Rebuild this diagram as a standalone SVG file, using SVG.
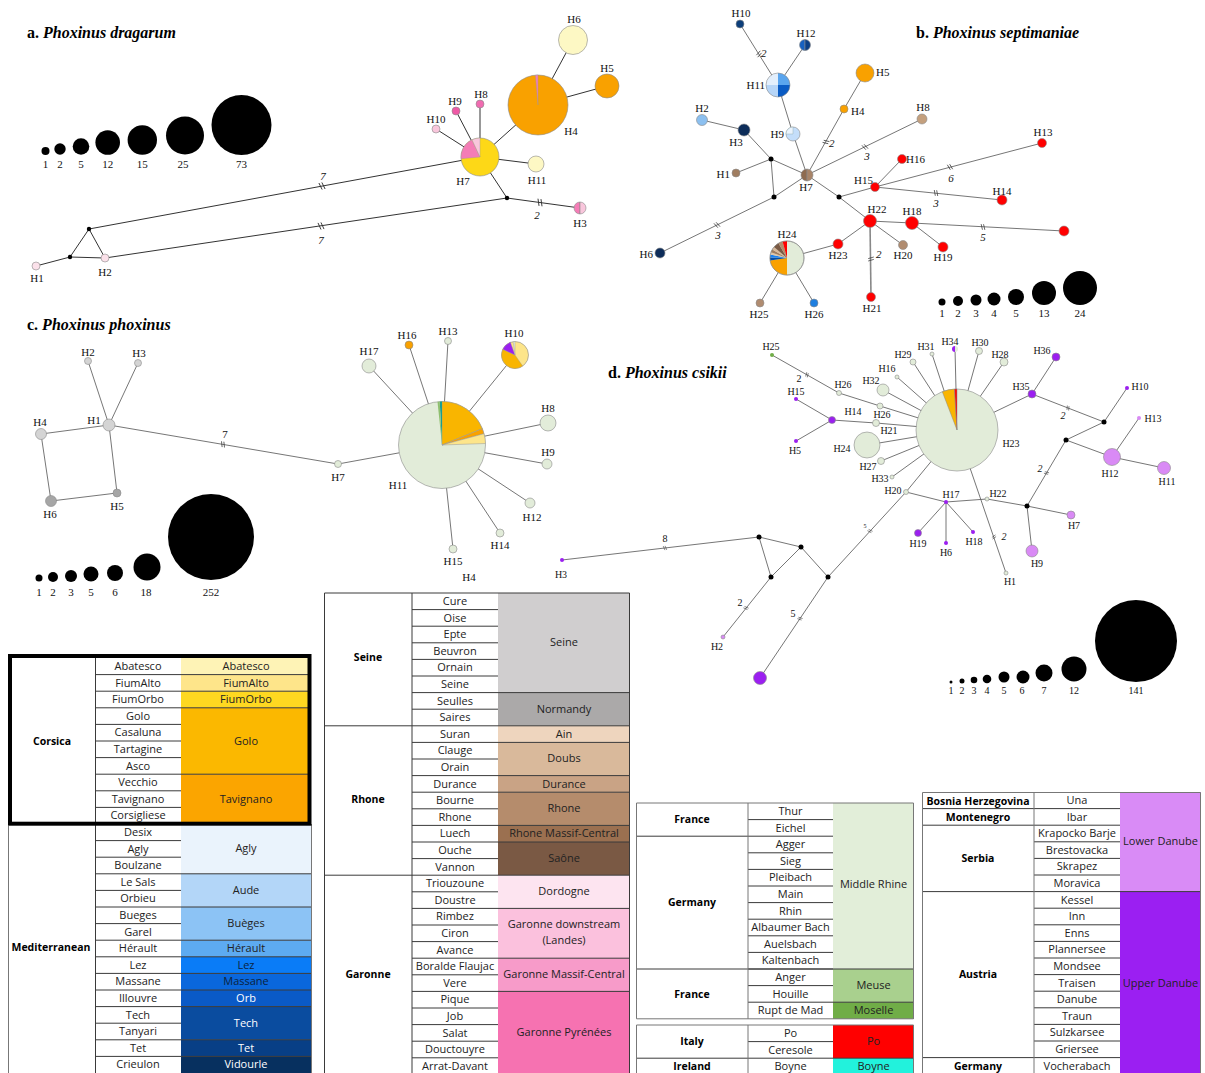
<svg xmlns="http://www.w3.org/2000/svg" xmlns:xlink="http://www.w3.org/1999/xlink" width="1205" height="1073" viewBox="0 0 1205 1073">
<style>
.e line{stroke:#333;stroke-width:1}
.eb line{stroke:#666;stroke-width:0.9}
.o{stroke:#8a8a8a;stroke-width:0.6}
.k{fill:#000}
.l{font-family:"Liberation Serif","Times New Roman",serif;font-size:11px;fill:#111;text-anchor:middle}
.s{font-size:10px}
.ls{font-size:10px}
.i{font-style:italic}
.st{text-anchor:start}
.en{text-anchor:end}
.t{font-family:"Liberation Serif","Times New Roman",serif;font-size:16px;font-weight:bold;fill:#000}
.tc{font-family:"Open Sans","Liberation Sans",sans-serif;font-size:11px;fill:#222;text-anchor:middle}
.tb{font-weight:bold;font-size:10.5px;fill:#000}
.w{fill:#fff}
.tl{fill:none;stroke:#3a3a3a;stroke-width:1}
.tg{fill:none;stroke:#777;stroke-width:1}
.lg{fill:#e2ecd9}
.pu{fill:#9b1ff0}
.lp{fill:#d98af5}
</style>
<defs>
<path id="h" d="M-2.5,-3.5L-0.5,3.5M0.5,-3.5L2.5,3.5" fill="none" stroke="#333" stroke-width="0.9"/>
</defs>
<rect width="1205" height="1073" fill="#fff"/>

<!-- titles -->
<text class="t" x="27" y="38">a. <tspan font-style="italic">Phoxinus dragarum</tspan></text>
<text class="t" x="916" y="38">b. <tspan font-style="italic">Phoxinus septimaniae</tspan></text>
<text class="t" x="27" y="330">c. <tspan font-style="italic">Phoxinus phoxinus</tspan></text>
<text class="t" x="608" y="378">d. <tspan font-style="italic">Phoxinus csikii</tspan></text>

<g id="connectors">
 <g class="e">
  <!-- panel a -->
  <line x1="36" y1="266" x2="70" y2="257"/>
  <line x1="70" y1="257" x2="89" y2="229"/>
  <line x1="89" y1="229" x2="105" y2="258"/>
  <line x1="70" y1="257" x2="105" y2="258"/>
  <line x1="89" y1="229" x2="480" y2="157"/>
  <line x1="105" y1="258" x2="507" y2="198"/>
  <line x1="507" y1="198" x2="480" y2="157"/>
  <line x1="507" y1="198" x2="580" y2="208"/>
  <line x1="480" y1="157" x2="436" y2="129"/>
  <line x1="480" y1="157" x2="456" y2="111"/>
  <line x1="480" y1="157" x2="480" y2="104"/>
  <line x1="480" y1="157" x2="538" y2="105"/>
  <line x1="480" y1="157" x2="536" y2="164"/>
  <line x1="538" y1="105" x2="573" y2="40"/>
  <line x1="538" y1="105" x2="607" y2="86"/>
 </g>
 <g class="eb">
  <!-- panel b -->
  <line x1="740" y1="24" x2="778" y2="85"/>
  <line x1="805" y1="45" x2="778" y2="85"/>
  <line x1="778" y1="85" x2="793" y2="134"/>
  <line x1="793" y1="134" x2="807" y2="175"/>
  <line x1="865" y1="73" x2="844" y2="109"/>
  <line x1="844" y1="109" x2="807" y2="175"/>
  <line x1="702" y1="120" x2="744" y2="130"/>
  <line x1="744" y1="130" x2="771" y2="159"/>
  <line x1="736" y1="173" x2="771" y2="159"/>
  <line x1="771" y1="159" x2="807" y2="175"/>
  <line x1="771" y1="159" x2="774" y2="197"/>
  <line x1="660" y1="253" x2="774" y2="197"/>
  <line x1="774" y1="197" x2="807" y2="175"/>
  <line x1="807" y1="175" x2="922" y2="119"/>
  <line x1="807" y1="175" x2="839" y2="197"/>
  <line x1="839" y1="197" x2="875" y2="187"/>
  <line x1="839" y1="197" x2="870" y2="221"/>
  <line x1="875" y1="187" x2="902" y2="159"/>
  <line x1="875" y1="187" x2="1042" y2="143"/>
  <line x1="875" y1="187" x2="1002" y2="200"/>
  <line x1="870" y1="221" x2="912" y2="223"/>
  <line x1="912" y1="223" x2="943" y2="247"/>
  <line x1="912" y1="223" x2="1064" y2="231"/>
  <line x1="870" y1="221" x2="903" y2="245"/>
  <line x1="870" y1="221" x2="838" y2="244"/>
  <line x1="838" y1="244" x2="787" y2="258"/>
  <line x1="870" y1="221" x2="871" y2="297" style="stroke:#888;stroke-width:1.6"/>
  <line x1="787" y1="258" x2="760" y2="303"/>
  <line x1="787" y1="258" x2="814" y2="303"/>
 </g>
 <g class="eb">
  <!-- panel c -->
  <line x1="109" y1="425" x2="88" y2="361"/>
  <line x1="109" y1="425" x2="138" y2="363"/>
  <line x1="109" y1="425" x2="41" y2="434"/>
  <line x1="41" y1="434" x2="51" y2="501"/>
  <line x1="51" y1="501" x2="117" y2="493"/>
  <line x1="117" y1="493" x2="109" y2="425"/>
  <line x1="109" y1="425" x2="338" y2="464"/>
  <line x1="338" y1="464" x2="442" y2="445"/>
  <line x1="442" y1="445" x2="369" y2="366"/>
  <line x1="442" y1="445" x2="409" y2="345"/>
  <line x1="442" y1="445" x2="448" y2="341"/>
  <line x1="442" y1="445" x2="515" y2="355"/>
  <line x1="442" y1="445" x2="548" y2="423"/>
  <line x1="442" y1="445" x2="547" y2="464"/>
  <line x1="442" y1="445" x2="530" y2="503"/>
  <line x1="442" y1="445" x2="500" y2="533"/>
  <line x1="442" y1="445" x2="453" y2="549"/>
 </g>
 <g class="eb">
  <!-- panel d -->
  <line x1="772" y1="355" x2="839" y2="393"/>
  <line x1="839" y1="393" x2="880" y2="406"/>
  <line x1="880" y1="406" x2="957" y2="430"/>
  <line x1="796" y1="399" x2="832" y2="420"/>
  <line x1="796" y1="441" x2="832" y2="420"/>
  <line x1="832" y1="420" x2="876" y2="423"/>
  <line x1="876" y1="423" x2="957" y2="430"/>
  <line x1="883" y1="390" x2="957" y2="430"/>
  <line x1="897" y1="377" x2="957" y2="430"/>
  <line x1="867" y1="445" x2="957" y2="430"/>
  <line x1="881" y1="461" x2="957" y2="430"/>
  <line x1="892" y1="477" x2="957" y2="430"/>
  <line x1="913" y1="362" x2="957" y2="430"/>
  <line x1="932" y1="354" x2="957" y2="430"/>
  <line x1="955" y1="349" x2="957" y2="430"/>
  <line x1="979" y1="351" x2="957" y2="430"/>
  <line x1="1004" y1="362" x2="957" y2="430"/>
  <line x1="957" y1="430" x2="1032" y2="394"/>
  <line x1="1032" y1="394" x2="1056" y2="357"/>
  <line x1="1032" y1="394" x2="1104" y2="422"/>
  <line x1="1104" y1="422" x2="1127" y2="388"/>
  <line x1="1104" y1="422" x2="1066" y2="440"/>
  <line x1="1066" y1="440" x2="1112" y2="457"/>
  <line x1="1112" y1="457" x2="1164" y2="468"/>
  <line x1="1112" y1="457" x2="1139" y2="418"/>
  <line x1="1066" y1="440" x2="1027" y2="506"/>
  <line x1="1027" y1="506" x2="1071" y2="515"/>
  <line x1="1027" y1="506" x2="1032" y2="551"/>
  <line x1="1027" y1="506" x2="987" y2="499"/>
  <line x1="987" y1="499" x2="946" y2="502"/>
  <line x1="946" y1="502" x2="906" y2="492"/>
  <line x1="946" y1="502" x2="918" y2="533"/>
  <line x1="946" y1="502" x2="946" y2="543"/>
  <line x1="946" y1="502" x2="973" y2="532"/>
  <line x1="957" y1="430" x2="1006" y2="573"/>
  <line x1="957" y1="430" x2="906" y2="492"/>
  <line x1="906" y1="492" x2="828" y2="577"/>
  <line x1="828" y1="577" x2="801" y2="547"/>
  <line x1="801" y1="547" x2="759" y2="537"/>
  <line x1="759" y1="537" x2="771" y2="577"/>
  <line x1="771" y1="577" x2="801" y2="547"/>
  <line x1="771" y1="577" x2="723" y2="637"/>
  <line x1="828" y1="577" x2="760" y2="678"/>
  <line x1="759" y1="537" x2="562" y2="560"/>
 </g>
 <!-- mutation hash marks -->
 <use href="#h" transform="translate(322,186) rotate(-10.4)"/>
 <use href="#h" transform="translate(321,226) rotate(-8.5)"/>
 <use href="#h" transform="translate(540,202.5) rotate(7.8)"/>
 <use href="#h" transform="translate(759,54) rotate(58) scale(0.8)"/>
 <use href="#h" transform="translate(826,142) rotate(119) scale(0.8)"/>
 <use href="#h" transform="translate(717,225) rotate(-26) scale(0.8)"/>
 <use href="#h" transform="translate(865,147) rotate(-26) scale(0.8)"/>
 <use href="#h" transform="translate(950,167) rotate(-14.8) scale(0.8)"/>
 <use href="#h" transform="translate(936,193) rotate(5.8) scale(0.8)"/>
 <use href="#h" transform="translate(983,227) rotate(3) scale(0.8)"/>
 <use href="#h" transform="translate(871,259) rotate(90) scale(0.8)"/>
 <use href="#h" transform="translate(223,444.4) rotate(9.7) scale(0.8)"/>
 <use href="#h" transform="translate(807,374.8) rotate(29.6) scale(0.6)"/>
 <use href="#h" transform="translate(665,548) rotate(-6.7) scale(0.6)"/>
 <use href="#h" transform="translate(746,608) rotate(128.7) scale(0.6)"/>
 <use href="#h" transform="translate(800,618.6) rotate(124) scale(0.6)"/>
 <use href="#h" transform="translate(870,531) rotate(132.5) scale(0.6)"/>
 <use href="#h" transform="translate(994,537) rotate(71) scale(0.6)"/>
 <use href="#h" transform="translate(1068,408) rotate(21) scale(0.6)"/>
 <use href="#h" transform="translate(1046.5,473) rotate(120.6) scale(0.6)"/>
 <!-- mutation counts -->
 <text class="l i" x="323" y="180">7</text>
 <text class="l i" x="321" y="244">7</text>
 <text class="l i" x="537" y="219">2</text>
 <text class="l i st" x="761" y="57">2</text>
 <text class="l i st" x="829" y="147">2</text>
 <text class="l i" x="718" y="239">3</text>
 <text class="l i" x="867" y="160">3</text>
 <text class="l i" x="951" y="182">6</text>
 <text class="l i" x="936" y="207">3</text>
 <text class="l i" x="983" y="241">5</text>
 <text class="l i st" x="876" y="258">2</text>
 <text class="l" x="225" y="438">7</text>
 <text class="l s" x="799" y="382">2</text>
 <text class="l s" x="665" y="542">8</text>
 <text class="l s" x="740" y="606">2</text>
 <text class="l s" x="793" y="617">5</text>
 <text class="l" x="865" y="528" style="font-size:6px">5</text>
 <text class="l s i" x="1004" y="540">2</text>
 <text class="l s i" x="1063" y="419">2</text>
 <text class="l s i" x="1040" y="472">2</text>
</g>

<!-- ===== Panel a nodes ===== -->
<g id="a-legend">
 <circle class="k" cx="45.5" cy="151" r="4"/><circle class="k" cx="60" cy="149" r="5.7"/><circle class="k" cx="81" cy="146.5" r="8.3"/><circle class="k" cx="107.7" cy="142.5" r="12.3"/><circle class="k" cx="142.3" cy="140" r="14.7"/><circle class="k" cx="185" cy="135.5" r="19"/><circle class="k" cx="241.5" cy="125" r="30"/>
 <text class="l" x="45.5" y="168">1</text><text class="l" x="60" y="168">2</text><text class="l" x="81" y="168">5</text><text class="l" x="107.7" y="168">12</text><text class="l" x="142.3" y="168">15</text><text class="l" x="183" y="168">25</text><text class="l" x="241.5" y="168">73</text>
</g>
<g id="a-N"><circle class="k" cx="70" cy="257" r="2.2"/><circle class="k" cx="89" cy="229" r="2.2"/><circle class="k" cx="507" cy="198" r="2.2"/></g>
<g id="a-H1"><circle class="o" cx="36" cy="266" r="4" fill="#fbe1ea"/><text class="l" x="37" y="282">H1</text></g>
<g id="a-H2"><circle class="o" cx="105" cy="258" r="4" fill="#fbe1ea"/><text class="l" x="105" y="276">H2</text></g>
<g id="a-H3"><path class="o" d="M580,202A6,6 0 0,0 580,214Z" fill="#f47cb6"/><path class="o" d="M580,202A6,6 0 0,1 580,214Z" fill="#f9c6dc"/><text class="l" x="580" y="227">H3</text></g>
<g id="a-H4"><circle class="o" cx="538" cy="105" r="30" fill="#f9a100"/><path d="M538,105L535.4,75.1A30,30 0 0,1 538,75Z" fill="#f47cb6" stroke="#999" stroke-width="0.4"/><text class="l" x="571" y="135">H4</text></g>
<g id="a-H5"><circle class="o" cx="607" cy="86" r="12" fill="#f9a100"/><text class="l" x="607" y="72">H5</text></g>
<g id="a-H6"><circle class="o" cx="573" cy="40" r="14.5" fill="#fdf8c4"/><text class="l" x="574" y="23">H6</text></g>
<g id="a-H7"><circle class="o" cx="480" cy="157" r="19" fill="#fdd817"/><path d="M480,157L461.1,158.7A19,19 0 0,1 472,139.8Z" fill="#f47cb6" stroke="#999" stroke-width="0.4"/><path d="M480,157L472,139.8A19,19 0 0,1 480,138Z" fill="#f9c6dc" stroke="#999" stroke-width="0.4"/><text class="l" x="463" y="185">H7</text></g>
<g id="a-H8"><circle class="o" cx="480" cy="104" r="4" fill="#f06bb0"/><text class="l" x="481" y="98">H8</text></g>
<g id="a-H9"><circle class="o" cx="456" cy="111" r="4" fill="#ee5aa6"/><text class="l" x="455" y="105">H9</text></g>
<g id="a-H10"><circle class="o" cx="436" cy="129" r="4" fill="#f9c6dc"/><text class="l" x="436" y="123">H10</text></g>
<g id="a-H11"><circle class="o" cx="536" cy="164" r="8" fill="#fdf8c4"/><text class="l" x="537" y="184">H11</text></g>

<!-- ===== Panel b nodes ===== -->
<g id="b-legend">
 <circle class="k" cx="942" cy="302" r="3.5"/><circle class="k" cx="958" cy="301" r="5"/><circle class="k" cx="976" cy="300" r="5.5"/><circle class="k" cx="994" cy="299" r="6.5"/><circle class="k" cx="1016" cy="297" r="8"/><circle class="k" cx="1044" cy="293" r="12"/><circle class="k" cx="1080" cy="288" r="17"/>
 <text class="l" x="942" y="317">1</text><text class="l" x="958" y="317">2</text><text class="l" x="976" y="317">3</text><text class="l" x="994" y="317">4</text><text class="l" x="1016" y="317">5</text><text class="l" x="1044" y="317">13</text><text class="l" x="1080" y="317">24</text>
</g>
<g id="b-N"><circle class="k" cx="771" cy="159" r="2.5"/><circle class="k" cx="774" cy="197" r="2.5"/><circle class="k" cx="839" cy="197" r="2.5"/></g>
<g id="b-H1"><circle class="o" cx="736" cy="173" r="4" fill="#a07d60"/><text class="l en" x="730" y="178">H1</text></g>
<g id="b-H2"><circle class="o" cx="702" cy="120" r="5.5" fill="#8cc0f0"/><text class="l" x="702" y="112">H2</text></g>
<g id="b-H3"><circle class="o" cx="744" cy="130" r="6" fill="#0d2d5a"/><text class="l" x="736" y="146">H3</text></g>
<g id="b-H4"><circle class="o" cx="844" cy="109" r="4" fill="#f9a100"/><text class="l st" x="851" y="115">H4</text></g>
<g id="b-H5"><circle class="o" cx="865" cy="73" r="9" fill="#f9a100"/><text class="l st" x="876" y="76">H5</text></g>
<g id="b-H6"><circle class="o" cx="660" cy="253" r="5" fill="#0d2d5a"/><text class="l en" x="653" y="258">H6</text></g>
<g id="b-H7"><path class="o" d="M807,169A6,6 0 0,0 807,181Z" fill="#8e6b50"/><path class="o" d="M807,169A6,6 0 0,1 807,181Z" fill="#a88468"/><text class="l" x="806" y="191">H7</text></g>
<g id="b-H8"><circle class="o" cx="922" cy="119" r="5" fill="#c4a07e"/><text class="l" x="923" y="111">H8</text></g>
<g id="b-H9"><circle class="o" cx="793" cy="134" r="7" fill="#c4defa"/><path d="M793,134L786,134A7,7 0 0,1 793,127Z" fill="#eaf3fd" stroke="#8aa" stroke-width="0.4"/><text class="l en" x="784" y="138">H9</text></g>
<g id="b-H10"><circle class="o" cx="740" cy="24" r="4" fill="#0d3e7a"/><text class="l" x="741" y="17">H10</text></g>
<g id="b-H11"><path d="M778,85L766,85A12,12 0 0,1 778,73Z" fill="#e3effc"/><path d="M778,85L778,73A12,12 0 0,1 790,85Z" fill="#5aa5ee"/><path d="M778,85L790,85A12,12 0 0,1 778,97Z" fill="#0a5bc4"/><path d="M778,85L778,97A12,12 0 0,1 766,85Z" fill="#b6d5f7"/><circle class="o" cx="778" cy="85" r="12" fill="none"/><text class="l en" x="765" y="89">H11</text></g>
<g id="b-H12"><path class="o" d="M805,39.5A5.5,5.5 0 0,0 805,50.5Z" fill="#1560c0"/><path class="o" d="M805,39.5A5.5,5.5 0 0,1 805,50.5Z" fill="#0b3f85"/><text class="l" x="806" y="37">H12</text></g>
<g id="b-H13"><circle class="o" cx="1042" cy="143" r="4.5" fill="#ff0000"/><text class="l" x="1043" y="136">H13</text></g>
<g id="b-H14"><circle class="o" cx="1002" cy="200" r="5" fill="#ff0000"/><text class="l" x="1002" y="195">H14</text></g>
<g id="b-H15"><circle class="o" cx="875" cy="187" r="4.5" fill="#ff0000"/><text class="l en" x="873" y="184">H15</text></g>
<g id="b-H16"><circle class="o" cx="902" cy="159" r="4.5" fill="#ff0000"/><text class="l st" x="906" y="163">H16</text></g>
<g id="b-H17"><circle class="o" cx="1064" cy="231" r="5" fill="#ff0000"/></g>
<g id="b-H18"><circle class="o" cx="912" cy="223" r="6.5" fill="#ff0000"/><text class="l" x="912" y="215">H18</text></g>
<g id="b-H19"><circle class="o" cx="943" cy="247" r="5" fill="#ff0000"/><text class="l" x="943" y="261">H19</text></g>
<g id="b-H20"><circle class="o" cx="903" cy="245" r="4.5" fill="#b08c70"/><text class="l" x="903" y="259">H20</text></g>
<g id="b-H21"><circle class="o" cx="871" cy="297" r="4.5" fill="#ff0000"/><text class="l" x="872" y="312">H21</text></g>
<g id="b-H22"><circle class="o" cx="870" cy="221" r="6.5" fill="#ff0000"/><text class="l" x="877" y="213">H22</text></g>
<g id="b-H23"><circle class="o" cx="838" cy="244" r="5" fill="#ff0000"/><text class="l" x="838" y="259">H23</text></g>
<g id="b-H24">
 <circle class="o" cx="787" cy="258" r="17" fill="#e2ecd9"/>
 <path d="M787,258L787,275A17,17 0 0,1 770.2,260.4Z" fill="#f9a100"/>
 <path d="M787,258L770.2,260.4A17,17 0 0,1 770,257.4Z" fill="#0a4da0"/>
 <path d="M787,258L770,257.4A17,17 0 0,1 770.4,254.5Z" fill="#1a80f0"/>
 <path d="M787,258L770.4,254.5A17,17 0 0,1 771,252.2Z" fill="#e0c4a6"/>
 <path d="M787,258L771,252.2A17,17 0 0,1 772.3,249.5Z" fill="#a07d60"/>
 <path d="M787,258L772.3,249.5A17,17 0 0,1 774,247.1Z" fill="#d8b89a"/>
 <path d="M787,258L774,247.1A17,17 0 0,1 778.5,243.3Z" fill="#7a5a44"/>
 <path d="M787,258L778.5,243.3A17,17 0 0,1 782.6,241.6Z" fill="#b48b6b"/>
 <path d="M787,258L782.6,241.6A17,17 0 0,1 787,241Z" fill="#ff0000"/>
 <circle class="o" cx="787" cy="258" r="17" fill="none"/>
 <text class="l" x="787" y="238">H24</text>
</g>
<g id="b-H25"><circle class="o" cx="760" cy="303" r="4" fill="#b08c70"/><text class="l" x="759" y="318">H25</text></g>
<g id="b-H26"><circle class="o" cx="814" cy="303" r="4" fill="#1f7fe0"/><text class="l" x="814" y="318">H26</text></g>

<!-- ===== Panel c nodes ===== -->
<g id="c-legend">
 <circle class="k" cx="39" cy="578" r="3.5"/><circle class="k" cx="53" cy="577" r="5"/><circle class="k" cx="71" cy="576" r="6"/><circle class="k" cx="91" cy="574" r="7.5"/><circle class="k" cx="115" cy="573" r="8"/><circle class="k" cx="147" cy="567" r="13.5"/><circle class="k" cx="211" cy="537" r="43"/>
 <text class="l" x="39" y="596">1</text><text class="l" x="53" y="596">2</text><text class="l" x="71" y="596">3</text><text class="l" x="91" y="596">5</text><text class="l" x="115" y="596">6</text><text class="l" x="146" y="596">18</text><text class="l" x="211" y="596">252</text>
</g>
<g id="c-H1"><circle class="o" cx="109" cy="425" r="6" fill="#d4d4d4"/><text class="l" x="94" y="424">H1</text></g>
<g id="c-H2"><circle class="o" cx="88" cy="361" r="3.5" fill="#d4d4d4"/><text class="l" x="88" y="356">H2</text></g>
<g id="c-H3"><circle class="o" cx="138" cy="363" r="3.5" fill="#d4d4d4"/><text class="l" x="139" y="357">H3</text></g>
<g id="c-H4"><circle class="o" cx="41" cy="434" r="5.5" fill="#d4d4d4"/><text class="l" x="40" y="426">H4</text></g>
<g id="c-H5"><circle class="o" cx="117" cy="493" r="4" fill="#a6a6a6"/><text class="l" x="117" y="510">H5</text></g>
<g id="c-H6"><circle class="o" cx="51" cy="501" r="5.5" fill="#a6a6a6"/><text class="l" x="50" y="518">H6</text></g>
<g id="c-H7"><circle class="o lg" cx="338" cy="464" r="3.5"/><text class="l" x="338" y="481">H7</text></g>
<g id="c-H8"><circle class="o lg" cx="548" cy="423" r="8"/><text class="l" x="548" y="412">H8</text></g>
<g id="c-H9"><circle class="o lg" cx="547" cy="464" r="5"/><text class="l" x="548" y="456">H9</text></g>
<g id="c-H10">
 <circle class="o" cx="515" cy="355" r="13.5" fill="#fde58a"/>
 <path d="M515,355L522.7,366.1A13.5,13.5 0 0,1 502.8,349.3Z" fill="#f9b500" stroke="#999" stroke-width="0.4"/>
 <path d="M515,355L502.8,349.3A13.5,13.5 0 0,1 510.4,342.3Z" fill="#9b1ff0" stroke="#999" stroke-width="0.4"/>
 <path d="M515,355L513.1,341.6A13.5,13.5 0 0,1 515,341.5Z" fill="#e2ecd9" stroke="#999" stroke-width="0.4"/>
 <text class="l" x="514" y="337">H10</text>
</g>
<g id="c-H11">
 <circle class="o lg" cx="442" cy="445" r="43.5"/>
 <path d="M442,445L442,401.5A43.5,43.5 0 0,1 482.3,428.7Z" fill="#f9b500" stroke="#999" stroke-width="0.5"/>
 <path d="M442,445L482.3,428.7A43.5,43.5 0 0,1 484,433.7Z" fill="#f9a100" stroke="#999" stroke-width="0.5"/>
 <path d="M442,445L484,433.7A43.5,43.5 0 0,1 485.5,443.5Z" fill="#fde58a" stroke="#999" stroke-width="0.5"/>
 <path d="M442,445L439.7,401.6A43.5,43.5 0 0,1 442,401.5Z" fill="#1a9e8f"/>
 <path d="M442,445L437.5,401.7A43.5,43.5 0 0,1 439.7,401.6Z" fill="#8fbf6f"/>
 <text class="l" x="398" y="489">H11</text>
</g>
<g id="c-H12"><circle class="o lg" cx="530" cy="503" r="5"/><text class="l" x="532" y="521">H12</text></g>
<g id="c-H13"><circle class="o lg" cx="448" cy="341" r="3.5"/><text class="l" x="448" y="335">H13</text></g>
<g id="c-H14"><circle class="o lg" cx="500" cy="533" r="4"/><text class="l" x="500" y="549">H14</text></g>
<g id="c-H15"><circle class="o lg" cx="453" cy="549" r="4"/><text class="l" x="453" y="565">H15</text></g>
<g id="c-H16"><circle class="o" cx="409" cy="345" r="4" fill="#f9a100"/><text class="l" x="407" y="339">H16</text></g>
<g id="c-H17"><circle class="o lg" cx="369" cy="366" r="7"/><text class="l" x="369" y="355">H17</text></g>
<text class="l" x="469" y="581">H4</text>

<!-- ===== Panel d nodes ===== -->
<g id="d-legend">
 <circle class="k" cx="951" cy="682" r="1.5"/><circle class="k" cx="962" cy="681" r="2.5"/><circle class="k" cx="974" cy="680" r="3.3"/><circle class="k" cx="987" cy="679" r="4.3"/><circle class="k" cx="1004" cy="677" r="5.5"/><circle class="k" cx="1023" cy="677" r="6.5"/><circle class="k" cx="1044" cy="673" r="8.5"/><circle class="k" cx="1074" cy="669" r="12.5"/><circle class="k" cx="1136" cy="641" r="41"/>
 <text class="l s" x="951" y="694">1</text><text class="l s" x="962" y="694">2</text><text class="l s" x="974" y="694">3</text><text class="l s" x="987" y="694">4</text><text class="l s" x="1004" y="694">5</text><text class="l s" x="1022" y="694">6</text><text class="l s" x="1044" y="694">7</text><text class="l s" x="1074" y="694">12</text><text class="l s" x="1136" y="694">141</text>
</g>
<g id="d-N"><circle class="k" cx="759" cy="537" r="2.5"/><circle class="k" cx="771" cy="577" r="2.5"/><circle class="k" cx="801" cy="547" r="2.5"/><circle class="k" cx="828" cy="577" r="2.5"/><circle class="k" cx="1027" cy="506" r="2.5"/><circle class="k" cx="1066" cy="440" r="2.5"/><circle class="k" cx="1104" cy="422" r="2.5"/></g>
<g id="d-H1"><circle class="o lg" cx="1006" cy="573" r="2"/><text class="l s" x="1010" y="585">H1</text></g>
<g id="d-H2"><circle class="o lp" cx="723" cy="637" r="2"/><text class="l s" x="717" y="650">H2</text></g>
<g id="d-H3"><circle class="pu" cx="562" cy="560" r="2"/><text class="l s" x="561" y="578">H3</text></g>
<g id="d-H4"><circle class="o pu" cx="760" cy="678" r="6.5"/></g>
<g id="d-H5"><circle class="pu" cx="796" cy="441" r="2"/><text class="l s" x="795" y="454">H5</text></g>
<g id="d-H6"><circle class="pu" cx="946" cy="543" r="2"/><text class="l s" x="946" y="556">H6</text></g>
<g id="d-H7"><circle class="o lp" cx="1071" cy="515" r="4"/><text class="l s" x="1074" y="529">H7</text></g>
<g id="d-H9"><circle class="o lp" cx="1032" cy="551" r="6"/><text class="l s" x="1037" y="567">H9</text></g>
<g id="d-H10"><circle class="pu" cx="1127" cy="388" r="2"/><text class="l s" x="1140" y="390">H10</text></g>
<g id="d-H11"><circle class="o lp" cx="1164" cy="468" r="6.5"/><text class="l s" x="1167" y="485">H11</text></g>
<g id="d-H12"><circle class="o lp" cx="1112" cy="457" r="8.5"/><text class="l s" x="1110" y="477">H12</text></g>
<g id="d-H13"><circle class="lp" cx="1139" cy="418" r="2"/><text class="l s" x="1153" y="422">H13</text></g>
<g id="d-H14"><circle class="o pu" cx="832" cy="420" r="3.5"/><text class="l s" x="853" y="415">H14</text></g>
<g id="d-H15"><circle class="pu" cx="796" cy="399" r="2"/><text class="l s" x="796" y="395">H15</text></g>
<g id="d-H16"><circle class="o lg" cx="897" cy="377" r="2"/><text class="l s" x="887" y="372">H16</text></g>
<g id="d-H17"><circle class="pu" cx="946" cy="502" r="2"/><text class="l s" x="951" y="498">H17</text></g>
<g id="d-H18"><circle class="pu" cx="973" cy="532" r="2"/><text class="l s" x="974" y="545">H18</text></g>
<g id="d-H19"><circle class="o pu" cx="918" cy="533" r="3.5"/><text class="l s" x="918" y="547">H19</text></g>
<g id="d-H20"><circle class="o lg" cx="906" cy="492" r="2.5"/><text class="l s" x="893" y="494">H20</text></g>
<g id="d-H21"><circle class="o lg" cx="876" cy="423" r="3.5"/><text class="l s" x="889" y="434">H21</text></g>
<g id="d-H22"><circle class="o lg" cx="987" cy="499" r="2"/><text class="l s" x="998" y="497">H22</text></g>
<g id="d-H23">
 <circle class="o lg" cx="957" cy="430" r="41"/>
 <path d="M957,430L942.3,391.7A41,41 0 0,1 954.5,389.1Z" fill="#f9b500" stroke="#888" stroke-width="0.5"/>
 <path d="M957,430L954.5,389.1A41,41 0 0,1 957,389Z" fill="#ff0000" stroke="#888" stroke-width="0.5"/>
 <text class="l s" x="1011" y="447">H23</text>
</g>
<g id="d-H24"><circle class="o lg" cx="867" cy="445" r="13"/><text class="l s" x="842" y="452">H24</text></g>
<g id="d-H25"><circle cx="772" cy="355" r="2" fill="#70ad47"/><text class="l s" x="771" y="350">H25</text></g>
<g id="d-H26a"><circle class="o lg" cx="839" cy="393" r="2.5"/><text class="l s" x="843" y="388">H26</text></g>
<g id="d-H26b"><circle class="o lg" cx="880" cy="406" r="3"/><text class="l s" x="882" y="418">H26</text></g>
<g id="d-H27"><circle class="o lg" cx="881" cy="461" r="3.5"/><text class="l s" x="868" y="470">H27</text></g>
<g id="d-H28"><circle class="o lg" cx="1004" cy="362" r="4"/><text class="l s" x="1000" y="358">H28</text></g>
<g id="d-H29"><circle class="o lg" cx="913" cy="362" r="3"/><text class="l s" x="903" y="358">H29</text></g>
<g id="d-H30"><circle class="o lg" cx="979" cy="351" r="3.5"/><text class="l s" x="980" y="346">H30</text></g>
<g id="d-H31"><circle class="o lg" cx="932" cy="354" r="2"/><text class="l s" x="926" y="350">H31</text></g>
<g id="d-H32"><circle class="o lg" cx="883" cy="390" r="6"/><text class="l s" x="871" y="384">H32</text></g>
<g id="d-H33"><circle class="o lg" cx="892" cy="477" r="2"/><text class="l s" x="880" y="482">H33</text></g>
<g id="d-H34"><path d="M955,346A3,3 0 0,0 955,352Z" fill="#9b1ff0"/><path d="M955,346A3,3 0 0,1 955,352Z" fill="#e2ecd9"/><text class="l s" x="950" y="345">H34</text></g>
<g id="d-H35"><circle class="o pu" cx="1032" cy="394" r="4"/><text class="l s" x="1021" y="390">H35</text></g>
<g id="d-H36"><circle class="o pu" cx="1056" cy="357" r="4"/><text class="l s" x="1042" y="354">H36</text></g>

<!-- ===== Table left (Corsica / Mediterranean) ===== -->
<g id="table-left">
 <rect x="181" y="658" width="129" height="16.6" fill="#fef3b6"/>
 <rect x="181" y="674.6" width="129" height="16.6" fill="#fee58a"/>
 <rect x="181" y="691.2" width="129" height="16.6" fill="#fed821"/>
 <rect x="181" y="707.8" width="129" height="66.4" fill="#fbb800"/>
 <rect x="181" y="774.2" width="129" height="49.8" fill="#fba500"/>
 <rect x="181" y="824" width="131" height="49.8" fill="#eaf3fc"/>
 <rect x="181" y="873.8" width="131" height="33.2" fill="#b3d6f8"/>
 <rect x="181" y="907" width="131" height="33.2" fill="#8cc3f5"/>
 <rect x="181" y="940.2" width="131" height="16.6" fill="#5dabf1"/>
 <rect x="181" y="956.8" width="131" height="16.6" fill="#0a7cf7"/>
 <rect x="181" y="973.4" width="131" height="16.6" fill="#0a67dc"/>
 <rect x="181" y="990" width="131" height="16.6" fill="#0a5ac7"/>
 <rect x="181" y="1006.6" width="131" height="33.2" fill="#0a4c9f"/>
 <rect x="181" y="1039.8" width="131" height="16.6" fill="#083f86"/>
 <rect x="181" y="1056.4" width="131" height="17" fill="#07305f"/>
 <path class="tl" d="M95.5,674.6H181M95.5,691.2H181M95.5,707.8H181M95.5,724.4H181M95.5,741H181M95.5,757.6H181M95.5,774.2H181M95.5,790.8H181M95.5,807.4H181M95.5,840.6H181M95.5,857.2H181M95.5,873.8H181M95.5,890.4H181M95.5,907H181M95.5,923.6H181M95.5,940.2H181M95.5,956.8H181M95.5,973.4H181M95.5,990H181M95.5,1006.6H181M95.5,1023.2H181M95.5,1039.8H181M95.5,1056.4H181"/>
 <path class="tl" d="M181,674.6H310M181,691.2H310M181,707.8H310M181,774.2H310M181,873.8H312M181,907H312M181,940.2H312M181,956.8H312M181,973.4H312M181,990H312M181,1006.6H312M181,1039.8H312M181,1056.4H312"/>
 <path class="tl" d="M95.5,658V1073"/>
 <path class="tg" d="M8.5,826V1073M311.5,824V1073"/>
 <rect x="10" y="656" width="299.5" height="167.7" fill="none" stroke="#000" stroke-width="4"/>
 <text class="tc tb" x="52" y="744.5">Corsica</text>
 <text class="tc tb" x="51" y="951">Mediterranean</text>
 <g class="tc">
  <text x="138" y="670">Abatesco</text><text x="138" y="686.6">FiumAlto</text><text x="138" y="703.2">FiumOrbo</text><text x="138" y="719.8">Golo</text><text x="138" y="736.4">Casaluna</text><text x="138" y="753">Tartagine</text><text x="138" y="769.6">Asco</text><text x="138" y="786.2">Vecchio</text><text x="138" y="802.8">Tavignano</text><text x="138" y="819.4">Corsigliese</text><text x="138" y="836">Desix</text><text x="138" y="852.6">Agly</text><text x="138" y="869.2">Boulzane</text><text x="138" y="885.8">Le Sals</text><text x="138" y="902.4">Orbieu</text><text x="138" y="919">Bueges</text><text x="138" y="935.6">Garel</text><text x="138" y="952.2">Hérault</text><text x="138" y="968.8">Lez</text><text x="138" y="985.4">Massane</text><text x="138" y="1002">Illouvre</text><text x="138" y="1018.6">Tech</text><text x="138" y="1035.2">Tanyari</text><text x="138" y="1051.8">Tet</text><text x="138" y="1068.4">Crieulon</text>
  <text x="246" y="670">Abatesco</text><text x="246" y="686.6">FiumAlto</text><text x="246" y="703.2">FiumOrbo</text><text x="246" y="744.5">Golo</text><text x="246" y="802.6">Tavignano</text><text x="246" y="852.4">Agly</text><text x="246" y="893.9">Aude</text><text x="246" y="927.1">Buèges</text><text x="246" y="952.2">Hérault</text>
  <text x="246" y="968.8" fill="#0b2340">Lez</text><text x="246" y="985.4" fill="#0b2340">Massane</text>
  <text x="246" y="1002" class="w">Orb</text><text x="246" y="1026.7" class="w">Tech</text><text x="246" y="1051.8" class="w">Tet</text><text x="246" y="1068.4" class="w">Vidourle</text>
 </g>
</g>

<!-- ===== Table middle (Seine / Rhone / Garonne) ===== -->
<g id="table-middle">
 <rect x="498" y="593" width="132" height="99.6" fill="#d0cecf"/>
 <rect x="498" y="692.6" width="132" height="33.2" fill="#aba9a9"/>
 <rect x="498" y="725.8" width="132" height="16.6" fill="#eed5be"/>
 <rect x="498" y="742.4" width="132" height="33.2" fill="#d9b99b"/>
 <rect x="498" y="775.6" width="132" height="16.6" fill="#c9a385"/>
 <rect x="498" y="792.2" width="132" height="33.2" fill="#b58c6c"/>
 <rect x="498" y="825.4" width="132" height="16.6" fill="#9b7050"/>
 <rect x="498" y="842" width="132" height="33.2" fill="#7a5944"/>
 <rect x="498" y="875.2" width="132" height="33.2" fill="#fde4f0"/>
 <rect x="498" y="908.4" width="132" height="49.8" fill="#fbc1dd"/>
 <rect x="498" y="958.2" width="132" height="33.2" fill="#f79bc9"/>
 <rect x="498" y="991.4" width="132" height="82" fill="#f672b1"/>
 <path class="tl" d="M412,609.6H498M412,626.2H498M412,642.8H498M412,659.4H498M412,676H498M412,692.6H498M412,709.2H498M412,725.8H498M412,742.4H498M412,759H498M412,775.6H498M412,792.2H498M412,808.8H498M412,825.4H498M412,842H498M412,858.6H498M412,875.2H498M412,891.8H498M412,908.4H498M412,925H498M412,941.6H498M412,958.2H498M412,974.8H498M412,991.4H498M412,1008H498M412,1024.6H498M412,1041.2H498M412,1057.8H498"/>
 <path class="tl" d="M324,725.8H412M324,875.2H412M498,692.6H630M498,725.8H630M498,742.4H630M498,775.6H630M498,792.2H630M498,825.4H630M498,842H630M498,875.2H630M498,908.4H630M498,958.2H630M498,991.4H630"/>
 <path class="tl" d="M324.5,593H629.5V1073M324.5,593V1073M412,593V1073"/>
 <text class="tc tb" x="368" y="661">Seine</text>
 <text class="tc tb" x="368" y="803">Rhone</text>
 <text class="tc tb" x="368" y="978">Garonne</text>
 <g class="tc">
  <text x="455" y="605">Cure</text><text x="455" y="621.6">Oise</text><text x="455" y="638.2">Epte</text><text x="455" y="654.8">Beuvron</text><text x="455" y="671.4">Ornain</text><text x="455" y="688">Seine</text><text x="455" y="704.6">Seulles</text><text x="455" y="721.2">Saires</text><text x="455" y="737.8">Suran</text><text x="455" y="754.4">Clauge</text><text x="455" y="771">Orain</text><text x="455" y="787.6">Durance</text><text x="455" y="804.2">Bourne</text><text x="455" y="820.8">Rhone</text><text x="455" y="837.4">Luech</text><text x="455" y="854">Ouche</text><text x="455" y="870.6">Vannon</text><text x="455" y="887.2">Triouzoune</text><text x="455" y="903.8">Doustre</text><text x="455" y="920.4">Rimbez</text><text x="455" y="937">Ciron</text><text x="455" y="953.6">Avance</text><text x="455" y="970.2">Boralde Flaujac</text><text x="455" y="986.8">Vere</text><text x="455" y="1003.4">Pique</text><text x="455" y="1020">Job</text><text x="455" y="1036.6">Salat</text><text x="455" y="1053.2">Douctouyre</text><text x="455" y="1069.8">Arrat-Davant</text>
  <text x="564" y="646">Seine</text><text x="564" y="712.5">Normandy</text><text x="564" y="737.8">Ain</text><text x="564" y="762.3">Doubs</text><text x="564" y="787.6">Durance</text><text x="564" y="812">Rhone</text><text x="564" y="837.4">Rhone Massif-Central</text><text x="564" y="861.8">Saône</text><text x="564" y="895">Dordogne</text><text x="564" y="928">Garonne downstream</text><text x="564" y="944">(Landes)</text><text x="564" y="978">Garonne Massif-Central</text><text x="564" y="1036">Garonne Pyrénées</text>
 </g>
</g>

<!-- ===== Table right 1 (Rhine / Meuse / Po / Boyne) ===== -->
<g id="table-right1">
 <rect x="833" y="803" width="81" height="166" fill="#e2eed9"/>
 <rect x="833" y="969" width="81" height="33.2" fill="#a9d08e"/>
 <rect x="833" y="1002.2" width="81" height="16.6" fill="#70ad47"/>
 <rect x="833" y="1025" width="81" height="33.2" fill="#ff0000"/>
 <rect x="833" y="1058.2" width="81" height="16" fill="#22f2dc"/>
 <path class="tl" d="M748,819.6H833M748,836.2H833M748,852.8H833M748,869.4H833M748,886H833M748,902.6H833M748,919.2H833M748,935.8H833M748,952.4H833M748,969H833M748,985.6H833M748,1002.2H833M748,1041.6H833"/>
 <path class="tl" d="M636,836.2H748M636,969H914M833,1002.2H914M636,1058.2H914"/>
 <path class="tg" d="M636.5,803H913.5V1018.8H636.5ZM748,803V1018.8M636.5,1073V1025H913.5V1073M748,1025V1073" stroke="#555"/>
 <text class="tc tb" x="692" y="822.5">France</text>
 <text class="tc tb" x="692" y="906">Germany</text>
 <text class="tc tb" x="692" y="997.5">France</text>
 <text class="tc tb" x="692" y="1045">Italy</text>
 <text class="tc tb" x="692" y="1070">Ireland</text>
 <g class="tc">
  <text x="790.5" y="815">Thur</text><text x="790.5" y="831.6">Eichel</text><text x="790.5" y="848.2">Agger</text><text x="790.5" y="864.8">Sieg</text><text x="790.5" y="881.4">Pleibach</text><text x="790.5" y="898">Main</text><text x="790.5" y="914.6">Rhin</text><text x="790.5" y="931.2">Albaumer Bach</text><text x="790.5" y="947.8">Auelsbach</text><text x="790.5" y="964.4">Kaltenbach</text><text x="790.5" y="981">Anger</text><text x="790.5" y="997.6">Houille</text><text x="790.5" y="1014.2">Rupt de Mad</text>
  <text x="790.5" y="1037">Po</text><text x="790.5" y="1053.6">Ceresole</text><text x="790.5" y="1070.2">Boyne</text>
  <text x="873.5" y="888">Middle Rhine</text><text x="873.5" y="988.5">Meuse</text><text x="873.5" y="1014.2">Moselle</text><text x="873.5" y="1045">Po</text><text x="873.5" y="1070.2">Boyne</text>
 </g>
</g>

<!-- ===== Table right 2 (Danube) ===== -->
<g id="table-right2">
 <rect x="1120" y="792" width="81" height="99.6" fill="#d98bf6"/>
 <rect x="1120" y="891.6" width="81" height="182" fill="#9b1ff2"/>
 <path class="tl" d="M1034,808.6H1120M1034,825.2H1120M1034,841.8H1120M1034,858.4H1120M1034,875H1120M1034,891.6H1120M1034,908.2H1120M1034,924.8H1120M1034,941.4H1120M1034,958H1120M1034,974.6H1120M1034,991.2H1120M1034,1007.8H1120M1034,1024.4H1120M1034,1041H1120M1034,1057.6H1120"/>
 <path class="tl" d="M922,808.6H1034M922,825.2H1034M922,891.6H1034M922,1057.6H1034M1120,891.6H1201"/>
 <path class="tg" d="M922.5,1073V792.5H1200.5V1073M1034,792V1073" stroke="#555"/>
 <text class="tc tb" x="978" y="804.5">Bosnia Herzegovina</text>
 <text class="tc tb" x="978" y="821">Montenegro</text>
 <text class="tc tb" x="978" y="862">Serbia</text>
 <text class="tc tb" x="978" y="978">Austria</text>
 <text class="tc tb" x="978" y="1070">Germany</text>
 <g class="tc">
  <text x="1077" y="804">Una</text><text x="1077" y="820.6">Ibar</text><text x="1077" y="837.2">Krapocko Barje</text><text x="1077" y="853.8">Brestovacka</text><text x="1077" y="870.4">Skrapez</text><text x="1077" y="887">Moravica</text><text x="1077" y="903.6">Kessel</text><text x="1077" y="920.2">Inn</text><text x="1077" y="936.8">Enns</text><text x="1077" y="953.4">Plannersee</text><text x="1077" y="970">Mondsee</text><text x="1077" y="986.6">Traisen</text><text x="1077" y="1003.2">Danube</text><text x="1077" y="1019.8">Traun</text><text x="1077" y="1036.4">Sulzkarsee</text><text x="1077" y="1053">Griersee</text><text x="1077" y="1069.6">Vocherabach</text>
  <text x="1160.5" y="845">Lower Danube</text><text x="1160.5" y="986.5">Upper Danube</text>
 </g>
</g>
</svg>
